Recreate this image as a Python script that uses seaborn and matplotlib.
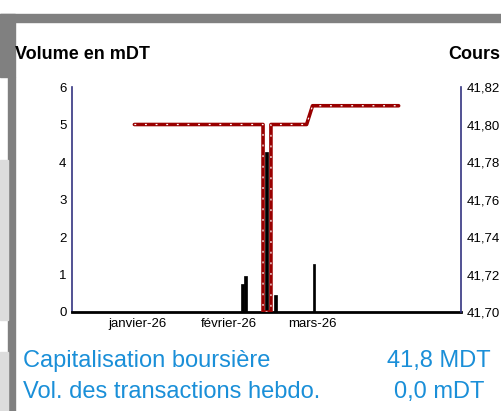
import pandas as pd
import seaborn as sns
import matplotlib.pyplot as plt
from matplotlib.patches import Rectangle
from matplotlib.ticker import FuncFormatter

# volumes (mDT)
vol_dates = ["2026-02-05", "2026-02-06", "2026-02-13", "2026-02-16", "2026-03-01"]
vol_values = [0.75, 0.96, 4.27, 0.45, 1.28]

# cours
px_dates = ["2025-12-31 00:00", "2026-02-12 08:00", "2026-02-12 08:00", "2026-02-15 00:00",
            "2026-02-15 00:00", "2026-02-27 00:00", "2026-03-01 00:00", "2026-03-30 00:00"]
px_values = [41.80, 41.80, 41.70, 41.70, 41.80, 41.80, 41.81, 41.81]

month_ticks = ["2026-01-01", "2026-02-01", "2026-03-01"]
month_labels = ["janvier-26", "février-26", "mars-26"]

vol = pd.DataFrame({"date": pd.to_datetime(vol_dates), "vol": vol_values})
px = pd.DataFrame({"date": pd.to_datetime(px_dates, format="%Y-%m-%d %H:%M"), "cours": px_values})

sns.set_style("white")
plt.rcParams['font.family'] = ['Liberation Sans', 'DejaVu Sans']
plt.rcParams['text.color'] = 'black'
plt.rcParams['xtick.color'] = 'black'
plt.rcParams['ytick.color'] = 'black'

W, H = 501, 411
fig = plt.figure(figsize=(W / 100, H / 100), dpi=100)

# cadre gris
def box(x0, y0, x1, y1, c):
    fig.patches.append(Rectangle((x0 / W, 1 - y1 / H), (x1 - x0) / W, (y1 - y0) / H,
                                 transform=fig.transFigure, color=c, zorder=0))
box(0, 14, W, 22, "#808080")
box(0, 14, 15, 77, "#808080")
box(8, 77, 15, H, "#808080")
box(0, 160, 8, 320, "#dcdcdc")
box(0, 352, 8, H, "#dcdcdc")

ax = fig.add_axes([72 / W, 1 - 312 / H, (461 - 72) / W, (312 - 87) / H])
ax.set_facecolor("none")
ax.bar(vol["date"], vol["vol"], width=1, align="edge", color="black",
       edgecolor="black", linewidth=0.5)
ax.set_ylim(0, 6)
ax.set_yticks(range(7))
ax.set_xlim(pd.Timestamp("2025-12-10"), pd.Timestamp("2026-04-20"))
ax.set_xticks(pd.to_datetime(month_ticks))
ax.set_xticklabels(month_labels)
ax.tick_params(length=0, labelsize=9.5, pad=4, labelcolor="black")
for s in ["top", "right"]:
    ax.spines[s].set_visible(False)
ax.spines["left"].set_color("#333380")
ax.spines["left"].set_linewidth(1.2)
ax.spines["bottom"].set_color("black")
ax.spines["bottom"].set_linewidth(2)
ax.set_xlabel("")
ax.set_ylabel("")

ax2 = ax.twinx()
sns.lineplot(data=px, x="date", y="cours", ax=ax2, color="#990000", lw=2.6,
             estimator=None, sort=False)
sns.lineplot(data=px, x="date", y="cours", ax=ax2, color="white", lw=0.9,
             linestyle=(0, (1.5, 7)), estimator=None, sort=False)
ax2.set_ylim(41.70, 41.82)
ax2.set_yticks([41.70, 41.72, 41.74, 41.76, 41.78, 41.80, 41.82])
ax2.yaxis.set_major_formatter(FuncFormatter(lambda v, p: f"{v:.2f}".replace(".", ",")))
ax2.tick_params(length=0, labelsize=9.5, pad=4, labelcolor="black")
for s in ["top", "left", "bottom"]:
    ax2.spines[s].set_visible(False)
ax2.spines["right"].set_color("#333380")
ax2.spines["right"].set_linewidth(1.2)
ax2.set_xlabel("")
ax2.set_ylabel("")

fig.text(15 / W, 1 - 54 / H, "Volume en mDT", fontsize=13, fontweight="bold", va="center")
fig.text(448 / W, 1 - 54 / H, "Cours", fontsize=13, fontweight="bold", va="center")

blue = "#1a8fd8"
fig.text(23 / W, 1 - 367 / H, "Capitalisation boursière", fontsize=17, color=blue, va="baseline")
fig.text(439 / W, 1 - 367 / H, "41,8 MDT", fontsize=17, color=blue, va="baseline", ha="center")
fig.text(23 / W, 1 - 398 / H, "Vol. des transactions hebdo.", fontsize=17, color=blue, va="baseline")
fig.text(439 / W, 1 - 398 / H, "0,0 mDT", fontsize=17, color=blue, va="baseline", ha="center")

fig.savefig("out.png", dpi=100)
